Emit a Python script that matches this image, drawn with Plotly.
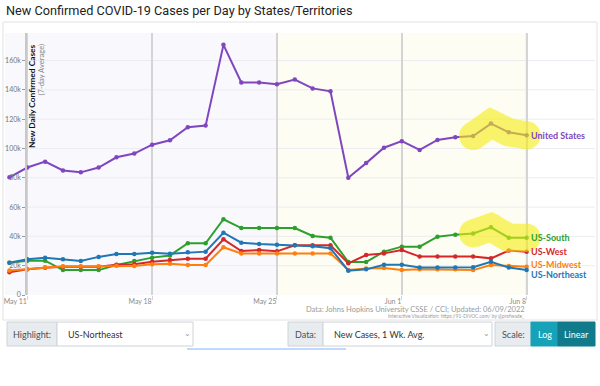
import plotly.graph_objects as go
import pandas as pd

# ---------------- data (thousands of cases, 7-day avg) ----------------
dates = pd.date_range("2022-05-10", "2022-06-08").strftime("%Y-%m-%d").tolist()

us = [80.3, 87, 91, 85, 83.7, 87, 94, 96.5, 102.6, 105.6, 114.5, 115.6, 170.7, 145, 145,
      143.8, 147, 141, 139, 80, 90, 100.5, 105, 99, 105.8, 107.6, 108.5, 117, 111, 109]
south = [22, 23.4, 23.4, 17, 17, 17, 20.5, 23.2, 25.5, 27, 35.3, 35.3, 51.7, 45.7, 45.7,
         45.7, 45.7, 40.3, 39.1, 22.5, 22.5, 29.6, 33, 33, 39.8, 41.2, 42, 46.2, 39.1, 39.1]
west = [15.5, 17.5, 18.6, 19.3, 19.3, 19.3, 20.7, 21, 22.7, 23.9, 24.8, 24.8, 38, 30, 30.7,
        29.8, 34, 34, 34, 21.6, 27.3, 28.4, 30.7, 26.2, 26.2, 26.2, 26.2, 25, 30.3, 29.6]
midwest = [16.8, 17.7, 18.9, 19.6, 19.6, 19.6, 20, 19.8, 21, 21.4, 20.5, 20.5, 32.6, 28.4, 28.4,
           28.4, 28.4, 28.4, 28.4, 17, 18, 18.4, 17, 17.5, 17.5, 17.5, 17, 20.5, 19.8, 19.3]
northeast = [22, 24.4, 25.5, 24.4, 23.2, 26, 28, 28, 28.9, 28.2, 29.1, 29.6, 42.5, 35.7, 34.8,
             34.3, 33.9, 33.2, 31.9, 16.6, 17.5, 20.7, 20.7, 18.7, 18.7, 18.7, 19, 22.7, 18.7, 17]

series_names = ["United States", "US-South", "US-West", "US-Midwest", "US-Northeast"]
series_vals = [us, south, west, midwest, northeast]
series_colors = ["#8046bf", "#2ca02c", "#d62728", "#ff7f0e", "#1f77b4"]
label_shift = [0, 0, 0, 2, -4]
highlighted = ["United States", "US-South"]
highlight_start = "2022-06-05"

tick_dates = ["2022-05-11", "2022-05-18", "2022-05-25", "2022-06-01", "2022-06-08"]
tick_text = ["May 11", "May 18", "May 25", "Jun 1", "Jun 8"]
y_ticks = [0, 20, 40, 60, 80, 100, 120, 140, 160]
y_text = ["0", "20k", "40k", "60k", "80k", "100k", "120k", "140k", "160k"]

# ---------------- layout geometry helpers ----------------
W, H = 600, 386
L, R, T, B = 5, 5, 33, 91
PW, PH = W - L - R, H - T - B


def px(x):
    return (x - L) / PW


def py(y):
    return (H - B - y) / PH


fig = go.Figure()

for name, vals, col in zip(series_names, series_vals, series_colors):
    fig.add_trace(go.Scatter(
        x=dates, y=[v * 1000 for v in vals], mode="lines+markers", name=name,
        line=dict(color=col, width=2), marker=dict(color=col, size=4.5),
        showlegend=False, hoverinfo="skip"))

# yellow highlight over the last few days
for name, vals in zip(series_names, series_vals):
    if name in highlighted:
        i0 = dates.index(highlight_start)
        fig.add_trace(go.Scatter(
            x=dates[i0:], y=[v * 1000 for v in vals[i0:]], mode="lines+markers",
            line=dict(color="#f5ee10", width=28), marker=dict(color="#f5ee10", size=28),
            opacity=0.6, showlegend=False, hoverinfo="skip"))

shapes = []
# background zones
shapes.append(dict(type="rect", xref="x", yref="paper", x0="2022-05-09 18:00", x1="2022-05-25",
                   y0=0, y1=1, fillcolor="#f8f8fd", line_width=0, layer="below"))
shapes.append(dict(type="rect", xref="x", yref="paper", x0="2022-05-25", x1="2022-06-08",
                   y0=0, y1=1, fillcolor="#fdfdf3", line_width=0, layer="below"))
# horizontal gridlines right of axis
for v in y_ticks[1:]:
    shapes.append(dict(type="line", xref="x", yref="y", x0=tick_dates[0], x1="2022-06-11 20:00",
                       y0=v * 1000, y1=v * 1000, line=dict(color="#ececf2", width=1), layer="below"))
# darker line at last date
shapes.append(dict(type="line", xref="x", yref="paper", x0=tick_dates[-1], x1=tick_dates[-1],
                   y0=0, y1=1, line=dict(color="#b4b4b4", width=1.5), layer="below"))
# outer container
shapes.append(dict(type="rect", xref="paper", yref="paper", x0=px(3), x1=px(597), y0=py(320), y1=py(22),
                   line=dict(color="#e2e2e2", width=1), fillcolor="rgba(0,0,0,0)", layer="below"))


# controls row
def box(x0, x1, y0, y1, fill, line="#ced4da"):
    shapes.append(dict(type="rect", xref="paper", yref="paper", x0=px(x0), x1=px(x1), y0=py(y1), y1=py(y0),
                       fillcolor=fill, line=dict(color=line, width=1)))


box(7, 57, 322, 346, "#e9ecef")
box(57, 193, 322, 346, "#ffffff")
box(288, 323, 322, 346, "#e9ecef")
box(323, 492, 322, 346, "#ffffff")
box(495, 531, 322, 346, "#e9ecef")
box(531, 558, 322, 346, "#17a2b8", "#17a2b8")
box(558, 595, 322, 346, "#117a8b", "#117a8b")
shapes.append(dict(type="line", xref="paper", yref="paper", x0=px(187), x1=px(346), y0=py(349), y1=py(349),
                   line=dict(color="rgba(120,170,255,0.45)", width=2)))

annotations = []


def txt(x, y, s, size, color, xanchor="left", bold=False, family="Lato", angle=0, yanchor="middle"):
    annotations.append(dict(xref="paper", yref="paper", x=px(x), y=py(y), text=("<b>%s</b>" % s) if bold else s,
                            showarrow=False, xanchor=xanchor, yanchor=yanchor, textangle=angle,
                            font=dict(size=size, color=color, family=family)))


txt(4, 10, "New Confirmed COVID-19 Cases per Day by States/Territories", 12.7, "#222222", family="Roboto")
txt(32, 42, "New Daily Confirmed Cases", 8.4, "#111111", xanchor="center", bold=True, angle=-90, yanchor="top")
txt(40.5, 42, "(7-day Average)", 7.6, "#888888", xanchor="center", angle=-90, yanchor="top")
txt(527, 309, "Data: Johns Hopkins University CSSE / CCI; Updated: 06/09/2022", 7.5, "#9a9a9a", xanchor="right")
txt(527, 316, "Interactive Visualization: https://91-DIVOC.com/ by @profwade_", 4.8, "#9a9a9a", xanchor="right")

txt(32, 334, "Highlight:", 9, "#495057", xanchor="center")
txt(66, 334, "US-Northeast", 9, "#333333")
txt(187, 333, "⌄", 8, "#999999", xanchor="center")
txt(305.5, 334, "Data:", 9, "#495057", xanchor="center")
txt(332, 334, "New Cases, 1 Wk. Avg.", 9, "#333333")
txt(486, 333, "⌄", 8, "#999999", xanchor="center")
txt(513, 334, "Scale:", 9, "#495057", xanchor="center")
txt(544.5, 334, "Log", 9, "#ffffff", xanchor="center")
txt(576.5, 334, "Linear", 9, "#ffffff", xanchor="center")

for name, vals, col, sh in zip(series_names, series_vals, series_colors, label_shift):
    annotations.append(dict(x=dates[-1], y=vals[-1] * 1000, xref="x", yref="y", text="<b>%s</b>" % name,
                            showarrow=False, xanchor="left", xshift=2, yshift=sh,
                            font=dict(size=9, color=col, family="Lato")))

fig.update_layout(
    width=W, height=H, margin=dict(l=L, r=R, t=T, b=B),
    paper_bgcolor="white", plot_bgcolor="white",
    shapes=shapes, annotations=annotations,
    xaxis=dict(type="date", range=["2022-05-09 18:00", "2022-06-11 20:00"],
               tickvals=tick_dates, ticktext=tick_text, ticklabelposition="outside left",
               showgrid=True, gridcolor="#d4d4d4", gridwidth=1.5, ticks="outside", ticklen=4,
               tickcolor="#d4d4d4", tickfont=dict(size=7, color="#8a8a8a", family="Lato"),
               showline=False, zeroline=False, fixedrange=True),
    yaxis=dict(range=[0, 178800], anchor="free", position=px(26), tickvals=[v * 1000 for v in y_ticks],
               ticktext=y_text, showgrid=False, zeroline=False, showline=True, linecolor="#c8c8c8",
               linewidth=1.5, ticks="outside", ticklen=3, tickcolor="#999999",
               tickfont=dict(size=7, color="#777777", family="Lato"), fixedrange=True),
)

fig.write_html("out.html", config={"displayModeBar": False},
               post_script="document.body.style.margin='0';document.body.style.overflow='hidden';")
